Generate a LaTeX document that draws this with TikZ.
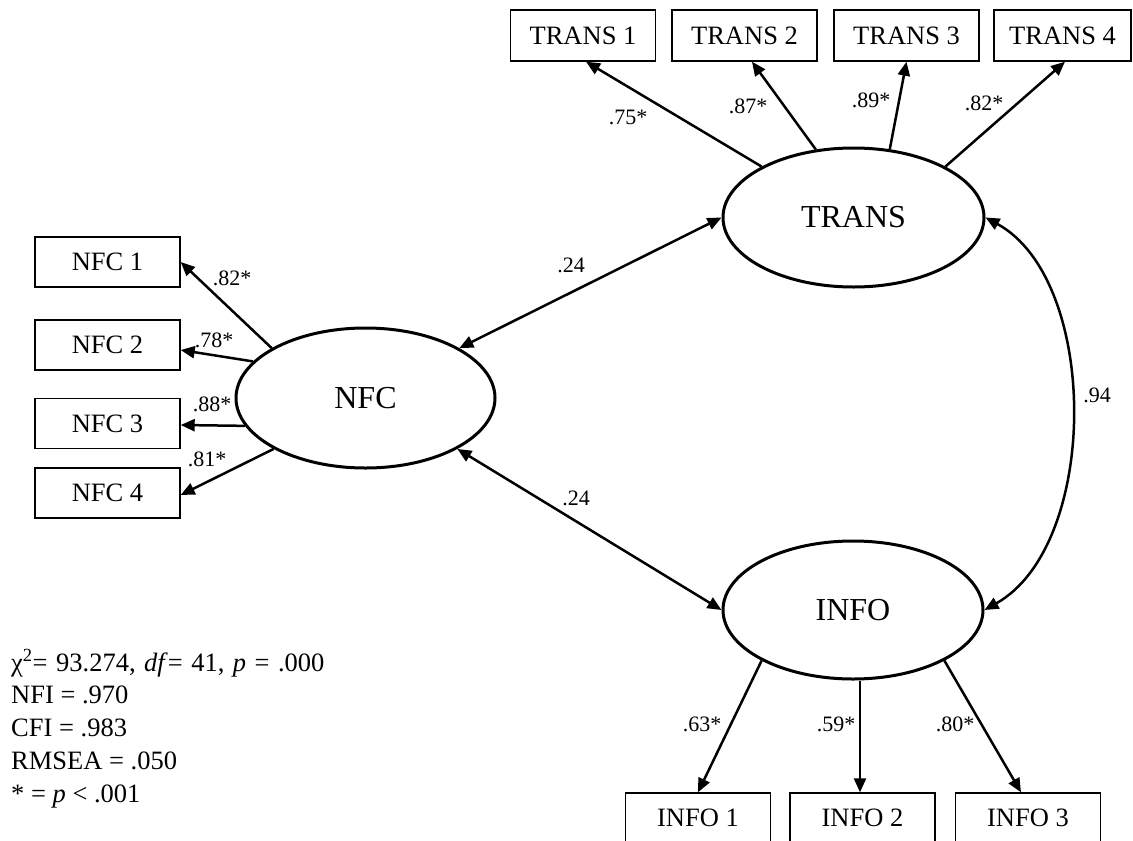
\documentclass[tikz,border=0pt]{standalone}
\usepackage{fontspec}
\setmainfont{Liberation Serif}
\usetikzlibrary{arrows.meta,shapes.geometric}
\begin{document}
\begin{tikzpicture}[x=1pt,y=-1pt,
  box/.style={draw, line width=1.4pt, minimum width=145pt, minimum height=50pt,
    inner sep=0pt, font=\fontsize{26.5}{30}\selectfont},
  latent/.style={draw, ellipse, line width=3pt, inner sep=0pt,
    font=\fontsize{32}{36}\selectfont},
  load/.style={line width=2.5pt, -{Triangle[length=14pt,width=12pt]}},
  cov/.style={line width=2.5pt,
    {Triangle[length=14pt,width=12pt]}-{Triangle[length=14pt,width=12pt]}},
  coef/.style={font=\fontsize{22}{24}\selectfont, inner sep=0pt},
  stat/.style={font=\fontsize{26.5}{30}\selectfont, inner sep=0pt, anchor=base west}]
\useasboundingbox (0,0) rectangle (1133,841);

% latent factors
\node[latent, minimum width=261pt, minimum height=139pt] (TRANS) at (853.5,217.5) {TRANS};
\node[latent, minimum width=259pt, minimum height=140pt] (NFC) at (365.5,398) {NFC};
\node[latent, minimum width=260pt, minimum height=138pt] (INFO) at (853,610) {INFO};

% indicators
\node[box, minimum height=51pt] (T1) at (583,35.5) {TRANS 1};
\node[box, minimum height=51pt] (T2) at (744.5,35.5) {TRANS 2};
\node[box, minimum height=51pt] (T3) at (906.5,35.5) {TRANS 3};
\node[box, minimum height=51pt, minimum width=137pt] (T4) at (1062.5,35.5) {TRANS 4};

\node[box] (N1) at (107.5,262) {NFC 1};
\node[box] (N2) at (107.5,345) {NFC 2};
\node[box] (N3) at (107.5,423.5) {NFC 3};
\node[box] (N4) at (107.5,493) {NFC 4};

\node[box] (I1) at (698,818) {INFO 1};
\node[box] (I2) at (862.5,818) {INFO 2};
\node[box] (I3) at (1028,818) {INFO 3};

% loadings
\draw[load] (TRANS.151) -- ([xshift=3pt]T1.south);
\draw[load] (TRANS.119) -- ([xshift=7.5pt]T2.south);
\draw[load] (TRANS.62) -- (T3.south);
\draw[load] (TRANS.29) -- ([xshift=2.5pt]T4.south);

\draw[load] (NFC.152) -- (N1.east);
\draw[load] (NFC.162) -- ([yshift=-5pt]N2.east);
\draw[load] (NFC.193) -- ([yshift=-1.5pt]N3.east);
\draw[load] (NFC.209) -- ([yshift=-2pt]N4.east);

\draw[load] (INFO.209) -- (I1.north);
\draw[load] ([xshift=7pt]INFO.south) -- ([xshift=-2.5pt]I2.north);
\draw[load] (INFO.331) -- ([xshift=-7pt]I3.north);

% factor correlations
\draw[cov] (NFC.28) -- (TRANS.west);
\draw[cov] (NFC.331) -- (INFO.west);
\draw[cov] (TRANS.east) .. controls (1100,280) and (1100,545) .. (INFO.east);

% coefficients
\node[coef] (cT1) at (628,117) {.75*};
\node[coef] (cT2) at (748,106) {.87*};
\node[coef] (cT3) at (871,100) {.89*};
\node[coef] (cT4) at (984,103) {.82*};
\node[coef] (cN1) at (232,278) {.82*};
\node[coef] (cN2) at (214,340) {.78*};
\node[coef] (cN3) at (212,404) {.88*};
\node[coef] (cN4) at (207,459) {.81*};
\node[coef] (cI1) at (702,724) {.63*};
\node[coef] (cI2) at (836,724) {.59*};
\node[coef] (cI3) at (955,724) {.80*};
\node[coef] (cNT) at (571,265) {.24};
\node[coef] (cNI) at (576,498) {.24};
\node[coef] (cTI) at (1097,395) {.94};

% fit statistics
\node[stat] (s1) at (11,671) {\spaceskip=8.5pt χ\textsuperscript{2}= 93.274, \textit{df}= 41, \textit{p} = .000};
\node[stat] (s2) at (11,703) {NFI = .970};
\node[stat] (s3) at (11,736) {CFI = .983};
\node[stat] (s4) at (11,769) {RMSEA = .050};
\node[stat] (s5) at (11,802) {* = \textit{p} < .001};
\end{tikzpicture}
\end{document}
